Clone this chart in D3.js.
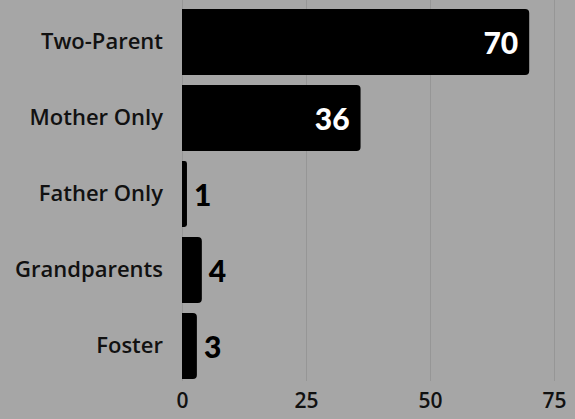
<!DOCTYPE html>
<html>
<head>
<meta charset="utf-8">
<script src="https://cdn.jsdelivr.net/npm/d3@7"></script>
<style>
  html, body { margin: 0; padding: 0; background: #a6a6a6; }
  svg { display: block; }
</style>
</head>
<body>
<div id="chart"></div>
<script>
// data
const categories = ["Two-Parent", "Mother Only", "Father Only", "Grandparents", "Foster"]
const values = [70, 36, 1, 4, 3]
const ticks = [0, 25, 50, 75]

const W = 575, H = 419
const font = "'Open Sans', 'DejaVu Sans', sans-serif"
const valueFont = "Lato, 'Open Sans', sans-serif"

let svg = d3.select("#chart")
    .append("svg")
    .attr("width", W)
    .attr("height", H)

svg.append("rect")
    .attr("width", W).attr("height", H)
    .attr("fill", "#a6a6a6")

let x = d3.scaleLinear()
    .domain([0, 75])
    .range([182, 554])

let y = d3.scaleBand()
    .domain(categories)
    .range([-1, 389])
    .padding(10 / 76)

// grid
svg.append("g")
    .selectAll("line")
    .data(ticks)
    .join("line")
    .attr("x1", d => x(d) + 0.5)
    .attr("x2", d => x(d) + 0.5)
    .attr("y1", 0)
    .attr("y2", 381)
    .attr("stroke", "#969696")
    .attr("stroke-width", 1)

// bottom axis labels
let xAxis = svg.append("g")
    .attr("transform", "translate(0,381)")
    .call(d3.axisBottom(x).tickValues(ticks).tickSize(0).tickPadding(12))
xAxis.select(".domain").remove()
xAxis.selectAll("text")
    .attr("font-family", font)
    .attr("font-size", 21)
    .attr("font-weight", 600)
    .attr("fill", "#111")

// category labels
let yAxis = svg.append("g")
    .attr("transform", "translate(163,0)")
    .call(d3.axisLeft(y).tickSize(0).tickPadding(0))
yAxis.select(".domain").remove()
yAxis.selectAll("text")
    .attr("font-family", font)
    .attr("font-size", 22)
    .attr("font-weight", 600)
    .attr("fill", "#111")

const r = 4
const barPath = (v, cat) => {
    const x0 = x(0), x1 = x(v), y0 = y(cat), h = y.bandwidth()
    const rr = Math.min(r, (x1 - x0) / 2)
    return `M${x0},${y0}H${x1 - rr}Q${x1},${y0} ${x1},${y0 + rr}` +
        `V${y0 + h - rr}Q${x1},${y0 + h} ${x1 - rr},${y0 + h}H${x0}Z`
}

const rows = categories.map((c, i) => ({ cat: c, val: values[i] }))
const inside = d => x(d.val) - x(0) > 60

svg.append("g")
    .selectAll("path")
    .data(rows)
    .join("path")
    .attr("d", d => barPath(d.val, d.cat))
    .attr("fill", "#000")

svg.append("g")
    .selectAll("text")
    .data(rows)
    .join("text")
    .attr("x", d => inside(d) ? x(d.val) - 11 : x(d.val) + 7)
    .attr("y", d => y(d.cat) + y.bandwidth() / 2)
    .attr("dy", "0.4em")
    .attr("text-anchor", d => inside(d) ? "end" : "start")
    .attr("font-family", valueFont)
    .attr("font-size", 30)
    .attr("font-weight", 900)
    .attr("fill", d => inside(d) ? "#fff" : "#000")
    .text(d => d.val)
</script>
</body>
</html>
